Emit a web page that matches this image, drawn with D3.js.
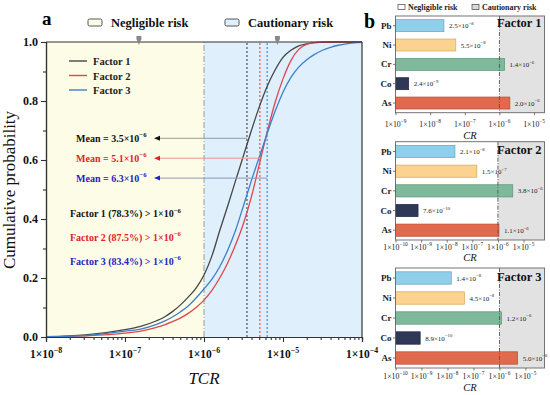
<!DOCTYPE html>
<html><head><meta charset="utf-8">
<script src="https://cdn.jsdelivr.net/npm/d3@7"></script>
<style>body{margin:0;background:#fff}svg{display:block}text{font-family:"Liberation Serif","Times New Roman",serif}</style>
</head><body><svg id="c" width="550" height="395"></svg>
<script>
// ---------- DATA ----------
const tcr = [1e-8,3.16e-8,1e-7,1.58e-7,2.51e-7,3.16e-7,3.98e-7,5.01e-7,6.31e-7,7.94e-7,1e-6,1.26e-6,1.58e-6,2e-6,2.51e-6,3.16e-6,3.98e-6,5.01e-6,6.31e-6,7.94e-6,1e-5,1.26e-5,1.58e-5,2e-5,2.51e-5,3.16e-5,3.98e-5,5.01e-5,6.31e-5,7.94e-5,1e-4];
const factor1 = [0.001,0.007,0.025,0.036,0.055,0.068,0.086,0.108,0.135,0.166,0.21,0.275,0.36,0.445,0.53,0.615,0.70,0.78,0.85,0.905,0.948,0.972,0.987,0.994,0.998,0.999,1,1,1,1,1];
const factor2 = [0.001,0.004,0.013,0.02,0.033,0.041,0.052,0.064,0.08,0.10,0.125,0.158,0.20,0.252,0.313,0.385,0.475,0.585,0.695,0.795,0.875,0.937,0.975,0.992,0.998,1,1,1,1,1,1];
const factor3 = [0.001,0.005,0.02,0.027,0.043,0.054,0.068,0.085,0.105,0.132,0.163,0.196,0.238,0.295,0.362,0.445,0.53,0.61,0.69,0.765,0.83,0.88,0.915,0.94,0.958,0.972,0.982,0.989,0.994,0.997,0.999];
const seriesNames = ["Factor 1","Factor 2","Factor 3"];
const meanValues = [3.5e-6, 5.1e-6, 6.3e-6];
const meanLabels = ["3.5", "5.1", "6.3"];
const pctAbove = ["78.3%", "87.5%", "83.4%"];
const threshold = 1e-6;
const xTicksA = [1e-8,1e-7,1e-6,1e-5,1e-4];
const yTicksA = [0,0.2,0.4,0.6,0.8,1.0];

const elements = ["Pb","Ni","Cr","Co","As"];
const crFactor1 = [2.5e-8, 5.5e-8, 1.4e-6, 2.4e-9, 2.0e-6];
const crFactor2 = [2.1e-8, 1.5e-7, 3.8e-6, 7.6e-10, 1.1e-6];
const crFactor3 = [1.4e-8, 4.5e-8, 1.2e-6, 8.9e-10, 5.0e-6];
const xTicksB1 = [1e-9,1e-8,1e-7,1e-6,1e-5];
const xTicksB23 = [1e-10,1e-9,1e-8,1e-7,1e-6,1e-5];

// ---------- STYLE ----------
const lineColors = ["#454545","#e0464e","#3d80c8"];
const textColors = ["#111111","#e3202a","#2323c4"];
const arrowLineColors = ["#9a9a9a","#f09090","#8f97b5"];
const barFill = ["#8fcfea","#fbd290","#7eb99b","#2f3957","#e1694d"];
const barStroke = ["#5ea6c6","#d8a65e","#5b9477","#1e263e","#b94c35"];

const svg = d3.select("#c");
function sup(sel, base, exp, fs){
  sel.append("tspan").text(base);
  sel.append("tspan").attr("dy", -fs*0.45).attr("font-size", fs*0.68).text(exp);
}
function expOf(v){ return Math.floor(Math.log10(v)+1e-9); }

// ================= PANEL A =================
const xA = d3.scaleLog().domain([1e-8,1e-4]).range([46,362]);
const yA = d3.scaleLinear().domain([0,1]).range([337,42]);
const gA = svg.append("g");
gA.append("rect").attr("x",xA(1e-8)).attr("y",yA(1)).attr("width",xA(threshold)-xA(1e-8)).attr("height",yA(0)-yA(1)).attr("fill","#fdfde7");
gA.append("rect").attr("x",xA(threshold)).attr("y",yA(1)).attr("width",xA(1e-4)-xA(threshold)).attr("height",yA(0)-yA(1)).attr("fill","#dfeffb");
gA.append("line").attr("x1",xA(threshold)).attr("x2",xA(threshold)).attr("y1",yA(0)).attr("y2",yA(1))
  .attr("stroke","#9a9a9a").attr("stroke-dasharray","6,2,1,2").attr("stroke-width",1);

meanValues.forEach((m,i)=>{
  gA.append("line").attr("x1",xA(m)).attr("x2",xA(m)).attr("y1",yA(0)).attr("y2",yA(1))
    .attr("stroke",lineColors[i]).attr("stroke-width",1.1).attr("stroke-dasharray","2,2");
});

const line = d3.line().x(d=>xA(d[0])).y(d=>yA(d[1])).curve(d3.curveMonotoneX);
[factor1,factor2,factor3].forEach((s,i)=>{
  gA.append("path").datum(tcr.map((t,j)=>[t,s[j]])).attr("d",line)
    .attr("fill","none").attr("stroke",lineColors[i]).attr("stroke-width",1.3);
});

gA.append("g").attr("transform",`translate(0,${yA(0)})`).call(d3.axisBottom(xA).tickValues(xTicksA).tickSize(5).tickFormat(""));
const minorX = [];
for(let e=-8;e<-4;e++) for(let k=2;k<10;k++) minorX.push(k*Math.pow(10,e));
gA.append("g").attr("transform",`translate(0,${yA(0)})`).call(d3.axisBottom(xA).tickValues(minorX).tickSize(3).tickFormat(""));
gA.append("g").attr("transform",`translate(${xA(1e-8)},0)`).call(d3.axisLeft(yA).tickValues(yTicksA).tickSize(5).tickFormat(""));
gA.append("g").attr("transform",`translate(${xA(1e-8)},0)`).call(d3.axisLeft(yA).tickValues([0.1,0.3,0.5,0.7,0.9]).tickSize(3).tickFormat(""));
gA.selectAll(".domain").attr("stroke","#333").attr("stroke-width",1.2);
gA.selectAll(".tick line").attr("stroke","#333").attr("stroke-width",1.1);
gA.append("line").attr("x1",xA(1e-8)).attr("x2",xA(1e-4)).attr("y1",yA(1)).attr("y2",yA(1)).attr("stroke","#333").attr("stroke-width",1.2);
gA.append("line").attr("x1",xA(1e-4)).attr("x2",xA(1e-4)).attr("y1",yA(1)).attr("y2",yA(0)).attr("stroke","#333").attr("stroke-width",1.2);

xTicksA.forEach(v=>{
  const t = gA.append("text").attr("x",xA(v)).attr("y",yA(0)+21).attr("text-anchor","middle")
    .attr("font-size",11.5).attr("font-weight","bold").attr("fill","#111");
  sup(t,"1×10","−"+(-expOf(v)),11.5);
});
yTicksA.forEach(v=>{
  gA.append("text").attr("x",xA(1e-8)-8).attr("y",yA(v)+4).attr("text-anchor","end")
    .attr("font-size",12).attr("font-weight","bold").attr("fill","#111").text(d3.format(".1f")(v));
});

[1.5e-7, 8.5e-6].forEach(v=>{
  gA.append("path").attr("d",`M${xA(v)-2.5},${yA(1)-6}L${xA(v)+2.5},${yA(1)-6}L${xA(v)+2.5},${yA(1)-3}L${xA(v)},${yA(1)+3}L${xA(v)-2.5},${yA(1)-3}Z`).attr("fill","#888");
});

seriesNames.forEach((n,i)=>{
  const y = 61 + i*14.5;
  gA.append("line").attr("x1",69).attr("x2",87).attr("y1",y).attr("y2",y).attr("stroke",lineColors[i]).attr("stroke-width",1.4);
  gA.append("text").attr("x",93).attr("y",y+4).attr("font-size",10.5).attr("font-weight","bold").attr("fill","#222").text(n);
});

meanValues.forEach((m,i)=>{
  const y = 138.3 + i*19.9;
  gA.append("line").attr("x1",xA(m)).attr("x2",159).attr("y1",y).attr("y2",y).attr("stroke",arrowLineColors[i]).attr("stroke-width",1);
  gA.append("path").attr("d",`M154,${y}L160,${y-2.5}L160,${y+2.5}Z`).attr("fill",textColors[i]);
  const t = gA.append("text").attr("x",76).attr("y",y+3.5).attr("font-size",10).attr("font-weight","bold").attr("fill",textColors[i]);
  sup(t,"Mean = "+meanLabels[i]+"×10","−"+(-expOf(m)),10);
});
pctAbove.forEach((p,i)=>{
  const y = 213 + i*23.8;
  const t = gA.append("text").attr("x",70).attr("y",y+4).attr("font-size",10).attr("font-weight","bold").attr("fill",textColors[i]);
  sup(t,seriesNames[i]+" ("+p+") > 1×10","−"+(-expOf(threshold)),10);
});

svg.append("text").attr("transform","translate(15,190) rotate(-90)").attr("text-anchor","middle").attr("font-size",17).attr("fill","#111").text("Cumulative probability");
svg.append("text").attr("x",xA(1e-6)).attr("y",384).attr("text-anchor","middle").attr("font-size",17).attr("font-style","italic").attr("fill","#111").text("TCR");
svg.append("text").attr("x",42).attr("y",25).attr("font-size",19).attr("font-weight","bold").text("a");

[[88,"#fdfde7","Negligible risk"],[225,"#dfeffb","Cautionary risk"]].forEach(d=>{
  svg.append("rect").attr("x",d[0]).attr("y",19).attr("width",14).attr("height",7).attr("rx",1.5).attr("fill",d[1]).attr("stroke","#444").attr("stroke-width",0.9);
  svg.append("text").attr("x",d[0]+23).attr("y",27).attr("font-size",12.5).attr("font-weight","bold").attr("fill","#111").text(d[2]);
});

// ================= PANEL B =================
svg.append("text").attr("x",364).attr("y",28).attr("font-size",20).attr("font-weight","bold").text("b");
[[398,"#ffffff","Negligible risk"],[472,"#d9d9d9","Cautionary risk"]].forEach(d=>{
  svg.append("rect").attr("x",d[0]).attr("y",4.5).attr("width",7).attr("height",5).attr("fill",d[1]).attr("stroke","#444").attr("stroke-width",0.7);
  svg.append("text").attr("x",d[0]+10).attr("y",10).attr("font-size",8).attr("font-weight","bold").attr("fill","#222").text(d[2]);
});

const subplots = [
  {vals:crFactor1, top:16, bottom:112.7, dom:[1e-9,2e-5], ticks:xTicksB1, name:"Factor 1", nameY:27, tickY:127, crY:138.5},
  {vals:crFactor2, top:141.7, bottom:240, dom:[1e-10,6.6e-5], ticks:xTicksB23, name:"Factor 2", nameY:154, tickY:250, crY:260.5},
  {vals:crFactor3, top:268, bottom:368, dom:[1e-10,5.4e-5], ticks:xTicksB23, name:"Factor 3", nameY:281, tickY:379, crY:391}
];
const bL = 395.5, bR = 544.5;
subplots.forEach(sp=>{
  const g = svg.append("g");
  const x = d3.scaleLog().domain(sp.dom).range([bL,bR]);
  const y = d3.scaleBand().domain(elements).range([sp.top,sp.bottom]).paddingInner(0.38).paddingOuter(0.19);
  g.append("rect").attr("x",bL).attr("y",sp.top).attr("width",bR-bL).attr("height",sp.bottom-sp.top).attr("fill","#fff");
  g.append("rect").attr("x",x(threshold)).attr("y",sp.top).attr("width",bR-x(threshold)).attr("height",sp.bottom-sp.top).attr("fill","#e2e2e2");
  g.selectAll(".bar").data(sp.vals).enter().append("rect")
    .attr("x",bL).attr("y",(d,i)=>y(elements[i])).attr("width",d=>x(d)-bL).attr("height",y.bandwidth())
    .attr("fill",(d,i)=>barFill[i]).attr("stroke",(d,i)=>barStroke[i]).attr("stroke-width",0.7);
  g.append("line").attr("x1",x(threshold)).attr("x2",x(threshold)).attr("y1",sp.top).attr("y2",sp.bottom)
    .attr("stroke","#555").attr("stroke-width",0.9).attr("stroke-dasharray","4,1.5,1,1.5");
  g.append("rect").attr("x",bL).attr("y",sp.top).attr("width",bR-bL).attr("height",sp.bottom-sp.top).attr("fill","none").attr("stroke","#666").attr("stroke-width",0.9);
  g.append("g").attr("transform",`translate(0,${sp.bottom})`).call(d3.axisBottom(x).tickValues(sp.ticks).tickSize(2.5).tickFormat(""));
  g.append("g").attr("transform",`translate(${bL},0)`).call(d3.axisLeft(y).tickSize(2.5).tickFormat(""));
  g.selectAll(".domain").remove();
  g.selectAll(".tick line").attr("stroke","#555").attr("stroke-width",0.8);
  sp.ticks.forEach(v=>{
    const t = g.append("text").attr("x",x(v)).attr("y",sp.tickY).attr("text-anchor","middle").attr("font-size",7.8).attr("fill","#222");
    sup(t,"1×10","−"+(-expOf(v)),7.8);
  });
  elements.forEach(e=>{
    g.append("text").attr("x",bL-4).attr("y",y(e)+y.bandwidth()/2+3).attr("text-anchor","end").attr("font-size",9).attr("font-weight","bold").attr("fill","#222").text(e);
  });
  sp.vals.forEach((v,i)=>{
    const ex = expOf(v);
    const t = g.append("text").attr("x",x(v)+5).attr("y",y(elements[i])+y.bandwidth()/2+2.5).attr("font-size",7).attr("fill","#222");
    sup(t,(v/Math.pow(10,ex)).toFixed(1)+"×10","−"+(-ex),7);
  });
  g.append("text").attr("x",bR-3).attr("y",sp.nameY).attr("text-anchor","end").attr("font-size",12.5).attr("font-weight","bold").attr("fill","#111").text(sp.name);
  g.append("text").attr("x",(bL+bR)/2).attr("y",sp.crY).attr("text-anchor","middle").attr("font-size",10.5).attr("font-style","italic").attr("fill","#111").text("CR");
});
</script></body></html>
